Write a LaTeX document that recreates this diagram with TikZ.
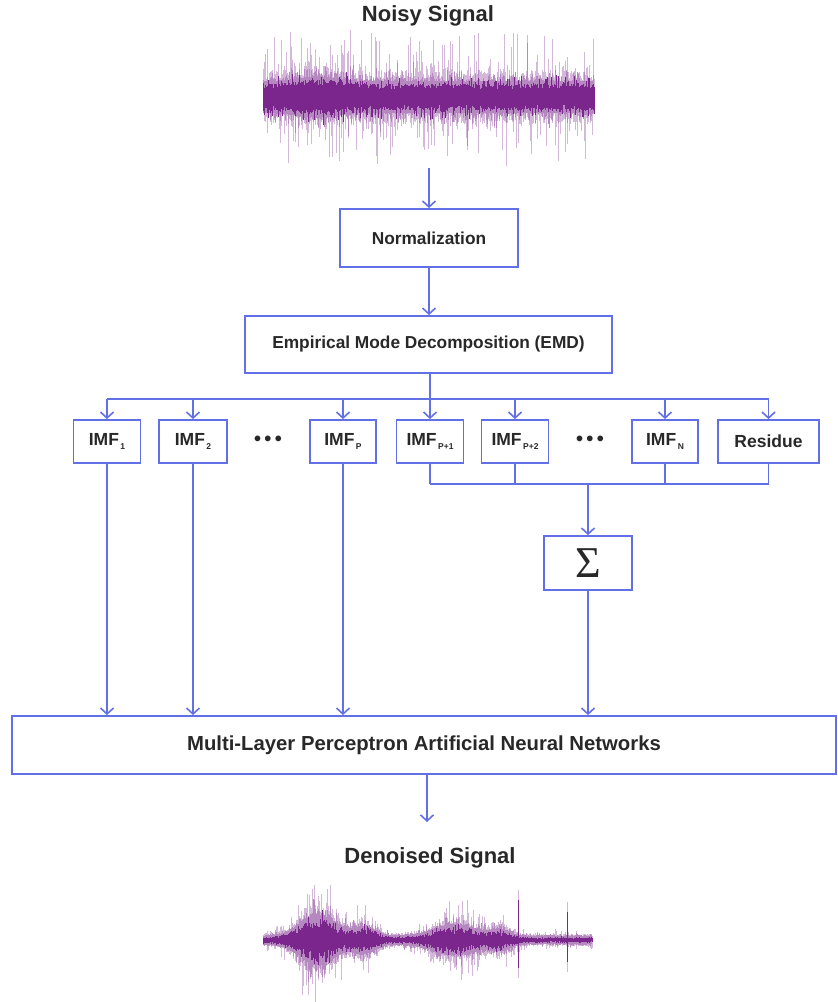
\documentclass[tikz,border=0pt]{standalone}
\usepackage{fontspec}
\setmainfont{Liberation Sans}
\newfontfamily\sigmafont{Liberation Serif}
\usetikzlibrary{arrows.meta}
\definecolor{flow}{RGB}{98,112,232}
\definecolor{wave}{RGB}{122,38,140}
\definecolor{ink}{RGB}{40,40,40}
\newcommand{\imfsub}[1]{\kern1.5pt\raisebox{-3.5pt}{\fontsize{8.5}{9}\selectfont #1}}
\tikzset{
  box/.style={draw=flow, line width=1.8pt, fill=white, text=ink,
    font=\bfseries\fontsize{17.3}{20}\selectfont, inner sep=0pt},
  imfbox/.style={box, minimum height=43pt, font=\bfseries\fontsize{17.5}{20}\selectfont},
  link/.style={draw=flow, line width=1.8pt},
  feed/.style={link, -{Straight Barb[length=6pt,width=13pt,line width=1.6pt]}},
  title/.style={text=ink, font=\bfseries\fontsize{22}{26}\selectfont},
  dots/.style={text=ink, font=\bfseries\fontsize{20}{20}\selectfont},
  faint/.style={wave, opacity=.33, line width=.6pt},
  solid/.style={wave, line width=.7pt},
}
\begin{document}
\begin{tikzpicture}[x=1pt,y=-1pt]
\useasboundingbox (0,0) rectangle (838,1002);

% ---------- input waveform ----------
\node[title] (noisy) at (428,16) {Noisy Signal};
\pgfmathsetseed{42}
\foreach \i in {0,...,662}{
  \pgfmathsetmacro{\xx}{263+0.5*\i}
  \pgfmathsetmacro{\env}{12.5+5*exp(max(-9,-((\xx-318)/28)^2))}
  \pgfmathsetmacro{\lt}{\env+3+12*(rand)^2+46*(abs(rand))^10}
  \pgfmathsetmacro{\lb}{\env+3+12*(rand)^2+46*(abs(rand))^10}
  \draw[faint] (\xx,97-\lt) -- (\xx,97+\lb);
  \pgfmathsetmacro{\dt}{\env*(0.82+0.22*rand)+11*(abs(rand))^8}
  \pgfmathsetmacro{\db}{\env*(0.82+0.22*rand)+11*(abs(rand))^8}
  \draw[solid] (\xx,97-\dt) -- (\xx,97+\db);
}
\coordinate (noisyout) at (429,168);

% ---------- processing chain ----------
\node[box, minimum width=178pt, minimum height=58pt] (norm) at (429,238) {Normalization};
\node[box, minimum width=367pt, minimum height=57pt] (emd) at (428.5,344.5) {Empirical Mode Decomposition (EMD)};

\node[imfbox, minimum width=67pt] (imf1) at (107,441.5) {IMF\imfsub{1}};
\node[imfbox, minimum width=68pt] (imf2) at (193,441.5) {IMF\imfsub{2}};
\node[dots] (dl) at (268,441) {\textbullet\,\textbullet\,\textbullet};
\node[imfbox, minimum width=66pt] (imfp) at (343,441.5) {IMF\imfsub{P}};
\node[imfbox, minimum width=67pt] (imfq) at (430,441.5) {IMF\imfsub{P+1}};
\node[imfbox, minimum width=67pt] (imfr) at (515,441.5) {IMF\imfsub{P+2}};
\node[dots] (dr) at (590,441) {\textbullet\,\textbullet\,\textbullet};
\node[imfbox, minimum width=66pt] (imfn) at (665,441.5) {IMF\imfsub{N}};
\node[imfbox, minimum width=101pt] (res) at (768.5,441.5) {Residue};

\node[box, minimum width=88pt, minimum height=54pt] (sum) at (588,563)
  {\sigmafont\mdseries\fontsize{44}{44}\selectfont Σ};

\node[box, minimum width=824pt, minimum height=58pt, font=\bfseries\fontsize{20.3}{24}\selectfont]
  (mlp) at (424,745) {Multi-Layer Perceptron Artificial Neural Networks};

\coordinate (split) at (0,399);
\coordinate (merge) at (0,484);
\coordinate (denoisedin) at (427,822);

\draw[feed] (noisyout) -- (norm.north);
\draw[feed] (norm.south) -- (norm.south |- emd.north);
\draw[link] (imfq.north |- emd.south) -- (imfq.north |- split);
\draw[link] (imf1.north |- split) -- (res.north |- split);
\foreach \n in {imf1,imf2,imfp,imfq,imfr,imfn,res}
  \draw[feed] (\n.north |- split) -- (\n.north);

\foreach \n in {imfq,imfr,imfn,res}
  \draw[link] (\n.south) -- (\n.south |- merge);
\draw[link] (imfq.south |- merge) -- (res.south |- merge);
\draw[feed] (sum.north |- merge) -- (sum.north);

\foreach \n in {imf1,imf2,imfp,sum}
  \draw[feed] (\n.south) -- (\n.south |- mlp.north);
\draw[feed] (denoisedin |- mlp.south) -- (denoisedin);

% ---------- output waveform ----------
\node[title] (clean) at (430,858) {Denoised Signal};
\pgfmathsetseed{7}
\foreach \i in {0,...,658}{
  \pgfmathsetmacro{\xx}{263+0.5*\i}
  \pgfmathsetmacro{\env}{2.5+19*exp(max(-9,-((\xx-318)/25)^2))+8*exp(max(-9,-((\xx-365)/15)^2))+10*exp(max(-9,-((\xx-455)/30)^2))+5*exp(max(-9,-((\xx-500)/14)^2))}
  \pgfmathsetmacro{\lt}{\env*(1.1+0.8*(rand)^2+1.9*(abs(rand))^10)+1.5}
  \pgfmathsetmacro{\lb}{\env*(1.1+0.8*(rand)^2+1.9*(abs(rand))^10)+1.5}
  \draw[faint] (\xx,940-\lt) -- (\xx,940+\lb);
  \pgfmathsetmacro{\dt}{\env*(0.7+0.3*rand+0.5*(abs(rand))^6)}
  \pgfmathsetmacro{\db}{\env*(0.7+0.3*rand+0.5*(abs(rand))^6)}
  \draw[solid] (\xx,940-\dt) -- (\xx,940+\db);
}
\draw[faint, line width=1pt] (518,890) -- (518,978);
\draw[solid, line width=.6pt] (518.5,900) -- (518.5,968);
\draw[faint, line width=1pt] (567,902) -- (567,972);
\draw[solid, line width=.6pt] (567.5,912) -- (567.5,962);
\end{tikzpicture}
\end{document}
